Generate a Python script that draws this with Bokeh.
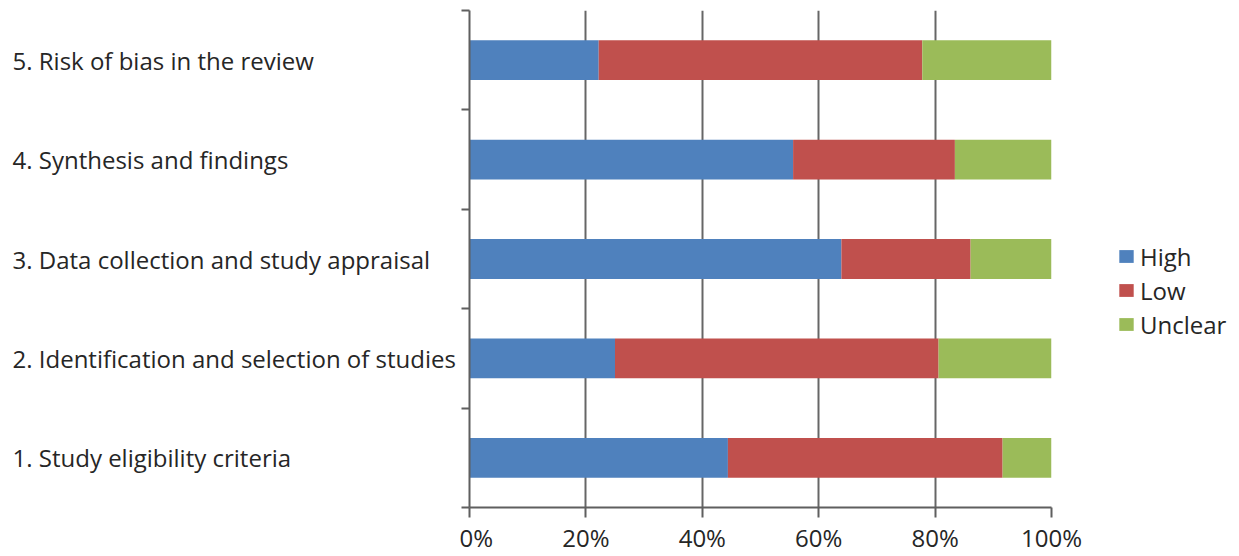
from bokeh.plotting import figure
from bokeh.layouts import row
from bokeh.models import ColumnDataSource, FixedTicker, Range1d, Legend, LegendItem, NumeralTickFormatter
from bokeh.core.properties import value
from bokeh.embed import file_html
from bokeh.resources import INLINE

categories = ["1. Study eligibility criteria",
              "2. Identification and selection of studies",
              "3. Data collection and study appraisal",
              "4. Synthesis and findings",
              "5. Risk of bias in the review"]
high = [44.4, 25.0, 63.9, 55.6, 22.2]
low = [47.2, 55.6, 22.2, 27.8, 55.6]
unclear = [8.4, 19.4, 13.9, 16.6, 22.2]
series = ["High", "Low", "Unclear"]
colors = ["#4f81bd", "#c0504d", "#9bbb59"]
x_ticks = [0, 20, 40, 60, 80, 100]

pos = list(range(1, len(categories) + 1))
src = ColumnDataSource(dict(y=pos, label=categories,
                            High=[h / 100 for h in high],
                            Low=[l / 100 for l in low],
                            Unclear=[u / 100 for u in unclear]))

FONT = "Open Sans"
TXT = "#262626"
AX = "#5f5f5f"
FS = "24px"

yr = Range1d(0.5, len(categories) + 0.5)

# left panel: category labels (left aligned)
lp = figure(width=459, height=556, output_backend="svg", toolbar_location=None,
            x_range=Range1d(-12, 447), y_range=yr,
            min_border_left=0, min_border_right=0, min_border_top=10, min_border_bottom=49)
lp.axis.visible = False
lp.grid.visible = False
lp.outline_line_color = None
lp.text(x=0, y="y", text="label", source=src, text_font=value(FONT),
        text_font_size=value(FS), text_color=TXT, text_baseline="middle", text_align="left")

# main chart
p = figure(width=632, height=556, output_backend="svg", toolbar_location=None,
           x_range=Range1d(0, 1), y_range=yr,
           min_border_left=10, min_border_right=40, min_border_top=10, min_border_bottom=49)
p.outline_line_color = None

p.hbar_stack(series, y="y", height=0.4, color=colors, source=src, line_color=None)

p.xaxis.ticker = FixedTicker(ticks=[t / 100 for t in x_ticks])
p.xaxis.formatter = NumeralTickFormatter(format="0%")
p.xaxis.major_tick_out = 10
p.xaxis.major_tick_in = 0
p.xaxis.minor_tick_out = 0
p.xaxis.major_label_standoff = 3
p.xaxis.axis_line_color = AX
p.xaxis.axis_line_width = 2
p.xaxis.major_tick_line_color = AX
p.xaxis.major_tick_line_width = 2
p.xaxis.major_label_text_font = FONT
p.xaxis.major_label_text_font_size = FS
p.xaxis.major_label_text_color = TXT

p.yaxis.ticker = FixedTicker(ticks=[], minor_ticks=[i + 0.5 for i in range(0, len(categories) + 1)])
p.yaxis.major_tick_out = 0
p.yaxis.major_tick_in = 0
p.yaxis.major_label_standoff = 0
p.yaxis.minor_tick_out = 8
p.yaxis.minor_tick_in = 0
p.yaxis.minor_tick_line_color = AX
p.yaxis.minor_tick_line_width = 2
p.yaxis.axis_line_color = AX
p.yaxis.axis_line_width = 2

p.ygrid.grid_line_color = None
p.xgrid.grid_line_color = "#666666"
p.xgrid.grid_line_width = 2

# legend panel (its bars lie outside its ranges; only the legend shows)
gp = figure(width=148, height=556, output_backend="svg", toolbar_location=None,
            x_range=Range1d(-20, -19), y_range=Range1d(-20, -19),
            min_border_left=0, min_border_right=0, min_border_top=0, min_border_bottom=0)
gp.axis.visible = False
gp.grid.visible = False
gp.outline_line_color = None
rs = gp.hbar_stack(series, y="y", height=0.4, color=colors, source=src, line_color=None)

legend = Legend(items=[LegendItem(label=s, renderers=[r]) for s, r in zip(series, rs)],
                location=(26, 166))
legend.label_text_font = FONT
legend.label_text_font_size = FS
legend.label_text_color = TXT
legend.glyph_width = 18
legend.glyph_height = 16
legend.label_height = 34
legend.label_standoff = 5
legend.spacing = 0
legend.border_line_color = None
legend.background_fill_alpha = 0
legend.padding = 0
legend.margin = 0
gp.add_layout(legend, "center")

layout = row(lp, p, gp)
open("out.html", "w").write(file_html(layout, INLINE))
